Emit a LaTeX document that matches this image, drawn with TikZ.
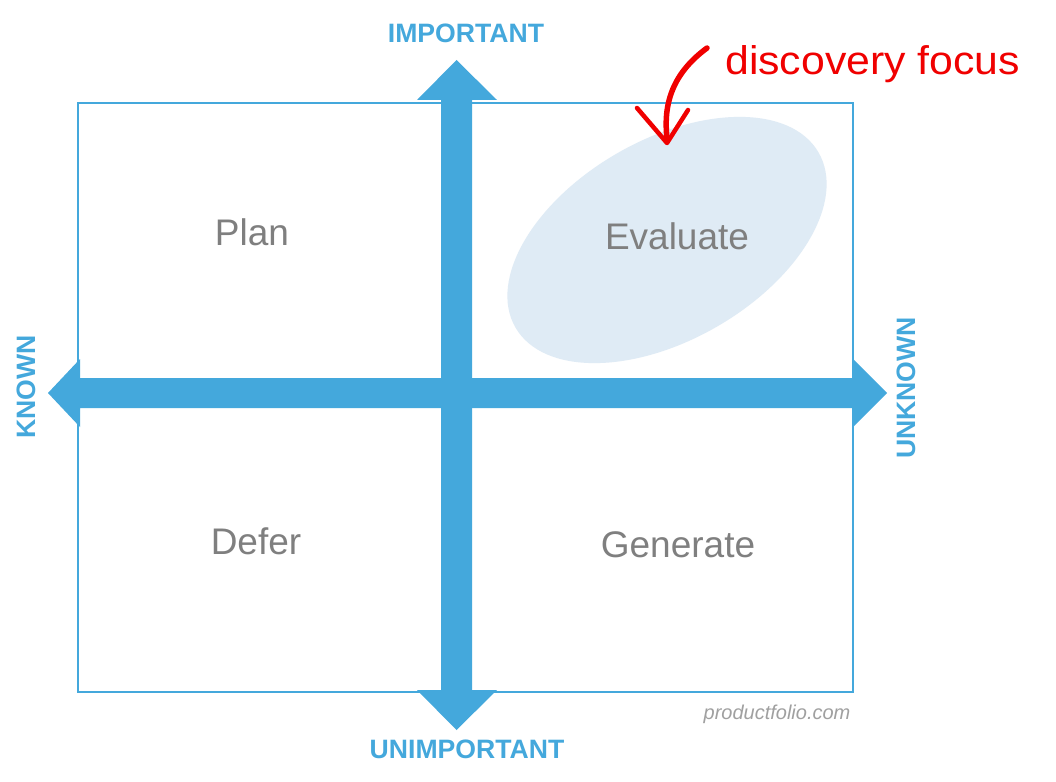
\documentclass[tikz,border=0pt]{standalone}
\usepackage{fontspec}
\setmainfont{Liberation Sans}
\definecolor{axisblue}{HTML}{44A8DC}
\definecolor{quadgray}{HTML}{7F7F7F}
\definecolor{focusfill}{HTML}{DFEBF5}
\definecolor{markred}{HTML}{F00000}
\definecolor{wmgray}{HTML}{A0A0A0}
\begin{document}
\begin{tikzpicture}[x=1pt,y=-1pt,
  axislabel/.style={text=axisblue,font=\fontsize{26.6}{30}\selectfont\bfseries,inner sep=0pt},
  quadlabel/.style={text=quadgray,font=\fontsize{37}{42}\selectfont,inner sep=0pt},
  arrowbody/.style={fill=axisblue,draw=none}]
\useasboundingbox[fill=white] (0,0) rectangle (1056,781);
% focus ellipse
\fill[focusfill,rotate around={30:(667,240)}] (667,240) ellipse [x radius=175,y radius=100];
% frame
\node[draw=axisblue,line width=1.6pt,minimum width=775pt,minimum height=589pt,inner sep=0pt,anchor=north west] (frame) at (77,102) {};
% vertical arrow
\fill[arrowbody] (456.5,60) -- (497,100) -- (472,100) -- (472,690) -- (497,690) -- (456.5,730) -- (417,690) -- (441,690) -- (441,100) -- (417,100) -- cycle;
% horizontal arrow
\fill[arrowbody] (48,393) -- (80,359) -- (80,378) -- (853,378) -- (853,359) -- (887,393) -- (853,427) -- (853,408) -- (80,408) -- (80,427) -- cycle;
% axis labels
\node[axislabel] (imp) at (466,33) {IMPORTANT};
\node[axislabel] (unimp) at (467,749) {UNIMPORTANT};
\node[axislabel,rotate=90] (known) at (26,387) {KNOWN};
\node[axislabel,rotate=90] (unknown) at (906,388) {UNKNOWN};
% quadrant labels
\node[quadlabel] (plan) at (252,232) {Plan};
\node[quadlabel] (eval) at (677,236) {Evaluate};
\node[quadlabel] (defer) at (256,541) {Defer};
\node[quadlabel] (gen) at (678,545) {Generate};
% discovery focus
\node[text=markred,font=\fontsize{40}{44}\selectfont,inner sep=0pt,anchor=base west,xscale=1.07] (focus) at (725,75) {discovery focus};
\coordinate (cstart) at (707,48);
\coordinate (ctip) at (667,143);
\draw[markred,line width=5.5pt,line cap=round] (cstart) .. controls (680,68) and (662,95) .. (667,138);
\draw[markred,line width=4.5pt,line cap=round,line join=round] (637,108) -- (ctip) -- (688,110);
% watermark
\node[text=wmgray,font=\fontsize{20}{24}\selectfont\itshape,inner sep=0pt] (wm) at (777,714) {productfolio.com};
\end{tikzpicture}
\end{document}
